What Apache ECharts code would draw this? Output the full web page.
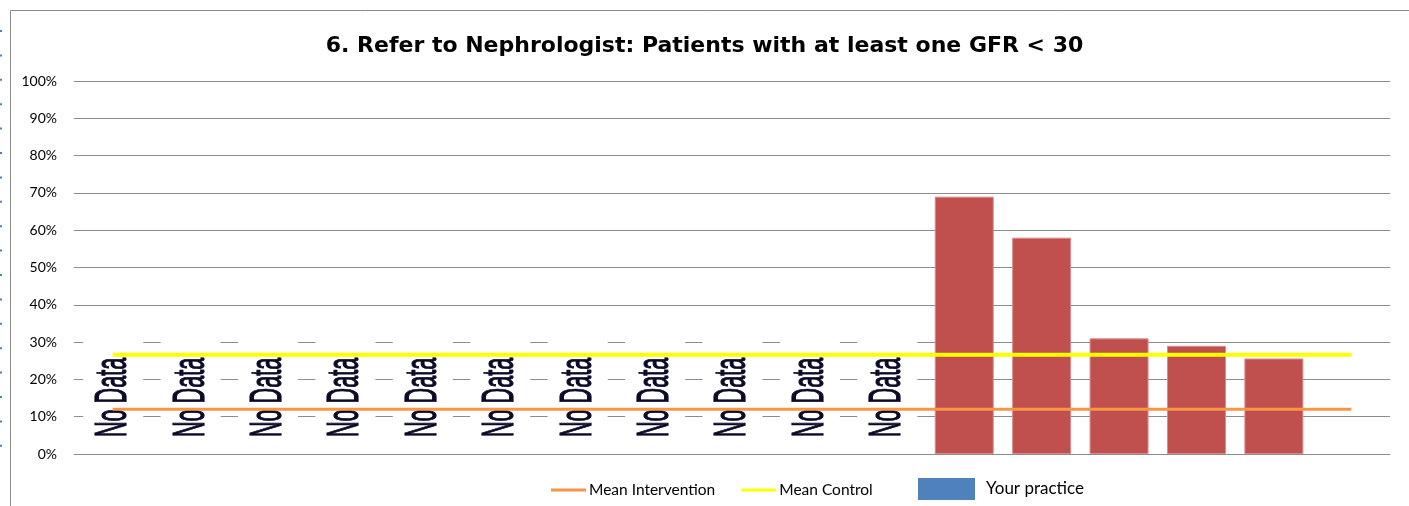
<!DOCTYPE html>
<html>
<head>
<meta charset="utf-8">
<script src="https://cdn.jsdelivr.net/npm/echarts@6/dist/echarts.min.js"></script>
<style>
html,body{margin:0;padding:0;background:#fff;}
#chart{width:1409px;height:506px;}
</style>
</head>
<body>
<div id="chart"></div>
<script>
// ---- data ----
var categories = ['1','2','3','4','5','6','7','8','9','10','11','12','13','14','15','16','17'];
var yourPractice = [null,null,null,null,null,null,null,null,null,null,null,69,58,31,29,25.6,null];
var noDataFlags  = [1,1,1,1,1,1,1,1,1,1,1,0,0,0,0,0,0];
var noDataHeight = 33; // white placeholder box behind "No Data"
var meanIntervention = [12,12,12,12,12,12,12,12,12,12,12,12,12,12,12,12,12];
var meanControl = [26.6,26.6,26.6,26.6,26.6,26.6,26.6,26.6,26.6,26.6,26.6,26.6,26.6,26.6,26.6,26.6,26.6];
var yTicks = [0,10,20,30,40,50,60,70,80,90,100];
var titleText = '6. Refer to Nephrologist: Patients with at least one GFR < 30';

var noDataBars = noDataFlags.map(function(f){ return f ? noDataHeight : null; });
var noDataPoints = [];
noDataFlags.forEach(function(f,i){ if(f) noDataPoints.push([i,0]); });

var chart = echarts.init(document.getElementById('chart'), null, {renderer:'canvas'});

var leftDots = [];
for (var k=0;k<18;k++){
  leftDots.push({type:'rect', shape:{x:0,y:30+k*24.4,width:2,height:2}, style:{fill:'#4a7fc9'}, silent:true});
}

chart.setOption({
  animation:false,
  backgroundColor:'#fff',
  title:{
    text:titleText, left:'center', top:30,
    textStyle:{fontFamily:'DejaVu Sans', fontWeight:'bold', fontSize:22, color:'#000'}
  },
  graphic:[
    {type:'rect', shape:{x:10.5,y:10.5,width:1420,height:520}, style:{fill:null, stroke:'#8c8c8c', lineWidth:1}, silent:true, z:-10}
  ].concat(leftDots),
  legend:[
    {
      left:546, top:477, itemGap:26, itemWidth:35, itemHeight:3, icon:'rect',
      textStyle:{fontFamily:'Lato', fontSize:15.5, color:'#000', padding:[0,0,0,-2]},
      data:['Mean Intervention','Mean Control']
    },
    {
      left:913, top:473, itemWidth:57, itemHeight:22, icon:'rect',
      itemStyle:{borderWidth:0},
      textStyle:{fontFamily:'Lato', fontSize:17, color:'#000', padding:[0,0,4,6]},
      data:[{name:'Your practice', itemStyle:{color:'#4F81BD', borderWidth:0}}]
    }
  ],
  grid:{left:74, right:19, top:81, bottom:52},
  xAxis:{
    type:'category', data:categories, z:5,
    axisLine:{lineStyle:{color:'#8c8c8c', width:1}},
    axisTick:{show:false}, axisLabel:{show:false}
  },
  yAxis:{
    type:'value', min:0, max:100, interval:10,
    axisLine:{show:false}, axisTick:{show:false},
    axisLabel:{formatter:'{value}%', fontFamily:'Lato', fontSize:14, color:'#000', margin:17},
    splitLine:{lineStyle:{color:'#8c8c8c', width:1}}
  },
  series:[
    {
      name:'noData', type:'bar', data:noDataBars, barWidth:60, barGap:'-100%', z:2,
      itemStyle:{color:'#ffffff'}, silent:true, legendHoverLink:false
    },
    {
      name:'Your practice', type:'bar', data:yourPractice, barWidth:59, barGap:'-100%', z:2,
      itemStyle:{color:'#C0504D', borderColor:'#d98c8a', borderWidth:1}
    },
    {
      name:'noDataLabel', type:'custom', data:noDataPoints, z:3, silent:true,
      renderItem:function(params, api){
        var p = api.coord([api.value(0), 0]);
        return {
          type:'text', x:p[0]+1, y:p[1]-17, rotation:Math.PI/2, scaleX:0.48, scaleY:1,
          style:{text:'No Data', fontFamily:'Liberation Sans', fontSize:45, fill:'#0a0a28',
                 stroke:'#0a0a28', lineWidth:1.2, align:'left', verticalAlign:'middle'}
        };
      }
    },
    {
      name:'Mean Intervention', type:'line', data:meanIntervention, z:4, symbol:'none',
      itemStyle:{color:'#F79646'}, lineStyle:{color:'#F79646', width:3}
    },
    {
      name:'Mean Control', type:'line', data:meanControl, z:4, symbol:'none',
      itemStyle:{color:'#FFFF00'}, lineStyle:{color:'#FFFF00', width:4}
    }
  ]
});
</script>
</body>
</html>
